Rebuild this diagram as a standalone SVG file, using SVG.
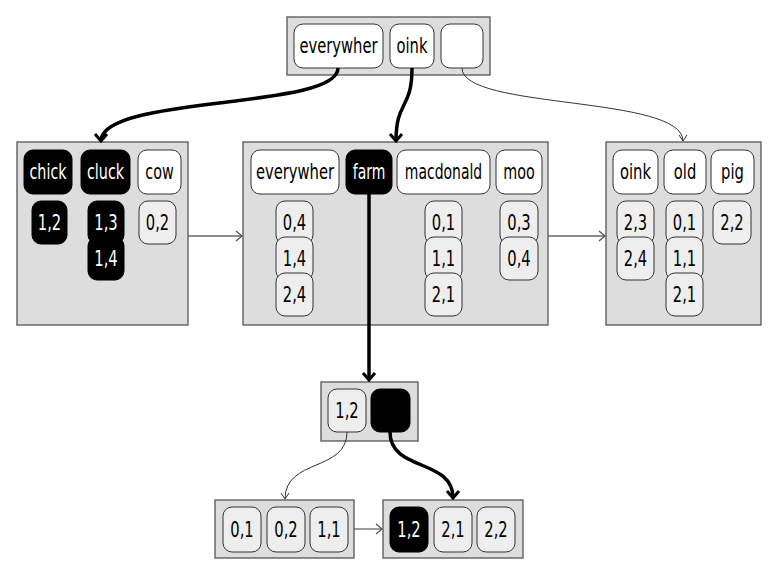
<svg xmlns="http://www.w3.org/2000/svg" width="777" height="576" viewBox="0 0 777 576">
<defs>
<style>
.node{fill:#dddddd;stroke:#555;stroke-width:1.3}
.key{fill:#fff;stroke:#333;stroke-width:1}
.val{fill:#eeeeee;stroke:#333;stroke-width:1}
.blk{fill:#000;stroke:#000;stroke-width:1}
text{font-family:"DejaVu Sans Condensed","DejaVu Sans",sans-serif;font-stretch:condensed;font-size:21px;text-anchor:middle;fill:#000}
text.w{fill:#fff}
.thick{fill:none;stroke:#000;stroke-width:3.5}
.thin{fill:none;stroke:#333;stroke-width:1}
.sib{fill:none;stroke:#666;stroke-width:1.3}
</style>
<marker id="aThick" markerUnits="userSpaceOnUse" viewBox="-10 -8 12 16" refX="0" refY="0" markerWidth="12" markerHeight="16" orient="auto">
<path d="M-7,-6 L0,0 L-7,6" fill="none" stroke="#000" stroke-width="3"/>
</marker>
<marker id="aThin" markerUnits="userSpaceOnUse" viewBox="-8 -6 10 12" refX="0" refY="0" markerWidth="10" markerHeight="12" orient="auto">
<path d="M-6,-4 L0,0 L-6,4" fill="none" stroke="#333" stroke-width="1"/>
</marker>
<marker id="aSib" markerUnits="userSpaceOnUse" viewBox="-8 -6 10 12" refX="0" refY="0" markerWidth="10" markerHeight="12" orient="auto">
<path d="M-6,-5 L0,0 L-6,5" fill="none" stroke="#555" stroke-width="1.3"/>
</marker>
</defs>
<rect width="777" height="576" fill="#fff"/>

<g id="node-root">
<rect class="node" x="287" y="17" width="203" height="58"/>
<rect class="key" x="294" y="24" width="89" height="44" rx="9"/>
<text transform="translate(338.5 53) scale(0.78 1)">everywher</text>
<rect class="key" x="390" y="24" width="44" height="44" rx="9"/>
<text transform="translate(412 53) scale(0.78 1)">oink</text>
<rect class="key" x="441" y="24" width="42" height="44" rx="9"/>
</g>

<g id="node-left">
<rect class="node" x="17" y="142" width="171" height="183"/>
<rect class="blk" x="24" y="150" width="48" height="44" rx="9"/>
<text class="w" transform="translate(48 179) scale(0.76 1)">chick</text>
<rect class="blk" x="81" y="150" width="49" height="44" rx="9"/>
<text class="w" transform="translate(105.5 179) scale(0.76 1)">cluck</text>
<rect class="key" x="138" y="150" width="43" height="44" rx="9"/>
<text transform="translate(159.5 179) scale(0.76 1)">cow</text>
<rect class="blk" x="32" y="201" width="35" height="43" rx="9"/>
<text class="w" transform="translate(49.5 230) scale(0.78 1)">1,2</text>
<rect class="blk" x="88" y="201" width="36" height="43" rx="9"/>
<text class="w" transform="translate(106 230) scale(0.78 1)">1,3</text>
<rect class="blk" x="88" y="237" width="36" height="43" rx="9"/>
<text class="w" transform="translate(106 266) scale(0.78 1)">1,4</text>
<rect class="val" x="139" y="201" width="37" height="43" rx="9"/>
<text transform="translate(157.5 230) scale(0.78 1)">0,2</text>
</g>

<g id="node-mid">
<rect class="node" x="243" y="142" width="305" height="183"/>
<rect class="key" x="251" y="150" width="88" height="44" rx="9"/>
<text transform="translate(295 179) scale(0.78 1)">everywher</text>
<rect class="blk" x="346" y="150" width="46" height="44" rx="9"/>
<text class="w" transform="translate(369 179) scale(0.74 1)">farm</text>
<rect class="key" x="397" y="150" width="93" height="44" rx="9"/>
<text transform="translate(443.5 179) scale(0.74 1)">macdonald</text>
<rect class="key" x="496" y="150" width="46" height="44" rx="9"/>
<text transform="translate(519 179) scale(0.76 1)">moo</text>
<rect class="val" x="276" y="201" width="37" height="43" rx="9"/>
<text transform="translate(294.5 230) scale(0.78 1)">0,4</text>
<rect class="val" x="276" y="237" width="37" height="43" rx="9"/>
<text transform="translate(294.5 266) scale(0.78 1)">1,4</text>
<rect class="val" x="276" y="273" width="37" height="43" rx="9"/>
<text transform="translate(294.5 302) scale(0.78 1)">2,4</text>
<rect class="val" x="425" y="201" width="37" height="43" rx="9"/>
<text transform="translate(443.5 230) scale(0.78 1)">0,1</text>
<rect class="val" x="425" y="237" width="37" height="43" rx="9"/>
<text transform="translate(443.5 266) scale(0.78 1)">1,1</text>
<rect class="val" x="425" y="273" width="37" height="43" rx="9"/>
<text transform="translate(443.5 302) scale(0.78 1)">2,1</text>
<rect class="val" x="500" y="201" width="38" height="43" rx="9"/>
<text transform="translate(519 230) scale(0.78 1)">0,3</text>
<rect class="val" x="500" y="237" width="38" height="43" rx="9"/>
<text transform="translate(519 266) scale(0.78 1)">0,4</text>
</g>

<g id="node-right">
<rect class="node" x="606" y="142" width="155" height="183"/>
<rect class="key" x="613" y="150" width="45" height="44" rx="9"/>
<text transform="translate(635.5 179) scale(0.78 1)">oink</text>
<rect class="key" x="664" y="150" width="42" height="44" rx="9"/>
<text transform="translate(685 179) scale(0.78 1)">old</text>
<rect class="key" x="711" y="150" width="43" height="44" rx="9"/>
<text transform="translate(732.5 179) scale(0.78 1)">pig</text>
<rect class="val" x="617" y="201" width="37" height="43" rx="9"/>
<text transform="translate(635.5 230) scale(0.78 1)">2,3</text>
<rect class="val" x="617" y="237" width="37" height="43" rx="9"/>
<text transform="translate(635.5 266) scale(0.78 1)">2,4</text>
<rect class="val" x="666" y="201" width="37" height="43" rx="9"/>
<text transform="translate(684.5 230) scale(0.78 1)">0,1</text>
<rect class="val" x="666" y="237" width="37" height="43" rx="9"/>
<text transform="translate(684.5 266) scale(0.78 1)">1,1</text>
<rect class="val" x="666" y="273" width="37" height="43" rx="9"/>
<text transform="translate(684.5 302) scale(0.78 1)">2,1</text>
<rect class="val" x="713" y="201" width="38" height="43" rx="9"/>
<text transform="translate(732 230) scale(0.78 1)">2,2</text>
</g>

<g id="node-farm">
<rect class="node" x="321" y="382" width="97" height="59"/>
<rect class="val" x="328" y="389" width="38" height="43" rx="9"/>
<text transform="translate(347 418) scale(0.78 1)">1,2</text>
<rect class="blk" x="371" y="389" width="39" height="43" rx="9"/>
</g>

<g id="node-bl">
<rect class="node" x="215" y="500" width="139" height="58"/>
<rect class="val" x="223" y="507" width="38" height="45" rx="9"/>
<text transform="translate(242 537) scale(0.78 1)">0,1</text>
<rect class="val" x="267" y="507" width="38" height="45" rx="9"/>
<text transform="translate(286 537) scale(0.78 1)">0,2</text>
<rect class="val" x="310" y="507" width="38" height="45" rx="9"/>
<text transform="translate(329 537) scale(0.78 1)">1,1</text>
</g>

<g id="node-br">
<rect class="node" x="383" y="500" width="140" height="58"/>
<rect class="blk" x="390" y="507" width="38" height="45" rx="9"/>
<text class="w" transform="translate(409 537) scale(0.78 1)">1,2</text>
<rect class="val" x="434" y="507" width="38" height="45" rx="9"/>
<text transform="translate(453 537) scale(0.78 1)">2,1</text>
<rect class="val" x="477" y="507" width="38" height="45" rx="9"/>
<text transform="translate(496 537) scale(0.78 1)">2,2</text>
</g>

<g id="connectors">
<path class="thick" d="M338,68 C338,110 101,95 101,141" marker-end="url(#aThick)"/>
<path class="thick" d="M412,68 C412,110 396,100 396,141" marker-end="url(#aThick)"/>
<path class="thin" d="M462,68 C462,110 683,95 683,141" marker-end="url(#aThin)"/>
<path class="thick" d="M369,194 L369,380" marker-end="url(#aThick)"/>
<path class="thin" d="M347,432 C347,472 285,458 285,499" marker-end="url(#aThin)"/>
<path class="thick" d="M390,432 C390,472 453,458 453,498" marker-end="url(#aThick)"/>
<path class="sib" d="M188,236 L242,236" marker-end="url(#aSib)"/>
<path class="sib" d="M548,236 L605,236" marker-end="url(#aSib)"/>
<path class="sib" d="M354,529 L382,529" marker-end="url(#aSib)"/>
</g>
</svg>
